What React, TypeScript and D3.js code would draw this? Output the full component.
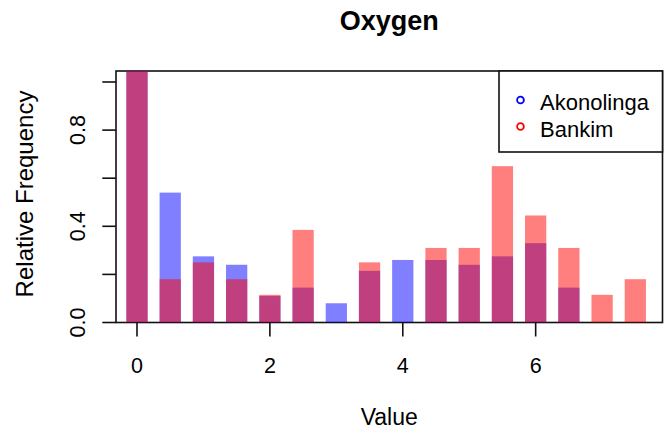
import React from "react";
import * as d3 from "d3";

const bins = [0, 0.5, 1, 1.5, 2, 2.5, 3, 3.5, 4, 4.5, 5, 5.5, 6, 6.5, 7, 7.5];
const akonolinga = [1.045, 0.54, 0.275, 0.24, 0.11, 0.145, 0.08, 0.215, 0.26, 0.26, 0.24, 0.275, 0.33, 0.145, 0, 0];
const bankim = [1.045, 0.18, 0.25, 0.18, 0.115, 0.385, 0, 0.25, 0, 0.31, 0.31, 0.65, 0.445, 0.31, 0.115, 0.18];
const xTicks = [0, 2, 4, 6];
const yTicks = [0, 0.2, 0.4, 0.6, 0.8, 1.0];
const yLabelTicks = [0, 0.4, 0.8];
const seriesNames = ["Akonolinga", "Bankim"];
const seriesColors = ["#0000ff", "#ff0000"];

const W = 664;
const H = 432;
const L = 116;
const R = 662.5;
const T = 71;
const B = 322.5;
const FONT = "'Liberation Sans', Arial, sans-serif";

export default function App() {
  const x = d3.scaleLinear().domain([-0.316, 7.909]).range([L, R]);
  const y = d3.scaleLinear().domain([0, 1.0457]).range([B, T]);
  const half = 0.16;
  const series = [akonolinga, bankim];

  return (
    <svg
      width={W}
      height={H}
      viewBox={`0 0 ${W} ${H}`}
      style={{ position: "absolute", left: 0, top: 0, background: "#fff" }}
      fontFamily={FONT}
    >
      <defs>
        <clipPath id="plotclip">
          <rect x={L} y={T} width={R - L} height={B - T} />
        </clipPath>
      </defs>
      <rect x={0} y={0} width={W} height={H} fill="#fff" />
      {/* box */}
      <rect x={L} y={T} width={R - L} height={B - T} fill="none" stroke="#111" strokeWidth={1.6} />
      {/* bars */}
      <g clipPath="url(#plotclip)">
        {series.map((vals, si) => (
          <g key={si} fill={seriesColors[si]} fillOpacity={0.5}>
            {bins.map((b, i) =>
              vals[i] > 0 ? (
                <rect
                  key={i}
                  x={x(b - half)}
                  y={y(vals[i])}
                  width={x(b + half) - x(b - half)}
                  height={y(0) - y(vals[i])}
                />
              ) : null
            )}
          </g>
        ))}
      </g>
      {/* y axis ticks */}
      {yTicks.map((t) => (
        <line key={t} x1={L - 13.7} x2={L} y1={y(t)} y2={y(t)} stroke="#111" strokeWidth={1.6} />
      ))}
      {yLabelTicks.map((t) => (
        <text
          key={t}
          transform={`translate(85,${y(t)}) rotate(-90)`}
          textAnchor="middle"
          fontSize={21.5}
          fill="#000"
        >
          {t.toFixed(1)}
        </text>
      ))}
      {/* x axis ticks */}
      {xTicks.map((t) => (
        <g key={t}>
          <line x1={x(t)} x2={x(t)} y1={B} y2={B + 14} stroke="#111" strokeWidth={1.6} />
          <text x={x(t)} y={373} textAnchor="middle" fontSize={21.5} fill="#000">
            {t}
          </text>
        </g>
      ))}
      {/* axis titles */}
      <text x={(L + R) / 2} y={425} textAnchor="middle" fontSize={23} fill="#000">
        Value
      </text>
      <text
        transform={`translate(33,194) rotate(-90)`}
        textAnchor="middle"
        fontSize={24}
        fill="#000"
      >
        Relative Frequency
      </text>
      <text x={(L + R) / 2} y={29.5} textAnchor="middle" fontSize={27} fontWeight="bold" fill="#000">
        Oxygen
      </text>
      {/* legend */}
      <rect x={499} y={T} width={R - 499} height={81} fill="#fff" stroke="#111" strokeWidth={1.6} />
      {seriesNames.map((n, i) => (
        <g key={n}>
          <circle cx={520.5} cy={100 + i * 26.5} r={3.4} fill="none" stroke={seriesColors[i]} strokeWidth={1.8} />
          <text x={540} y={110 + i * 26.5} fontSize={22} fill="#000">
            {n}
          </text>
        </g>
      ))}
    </svg>
  );
}
